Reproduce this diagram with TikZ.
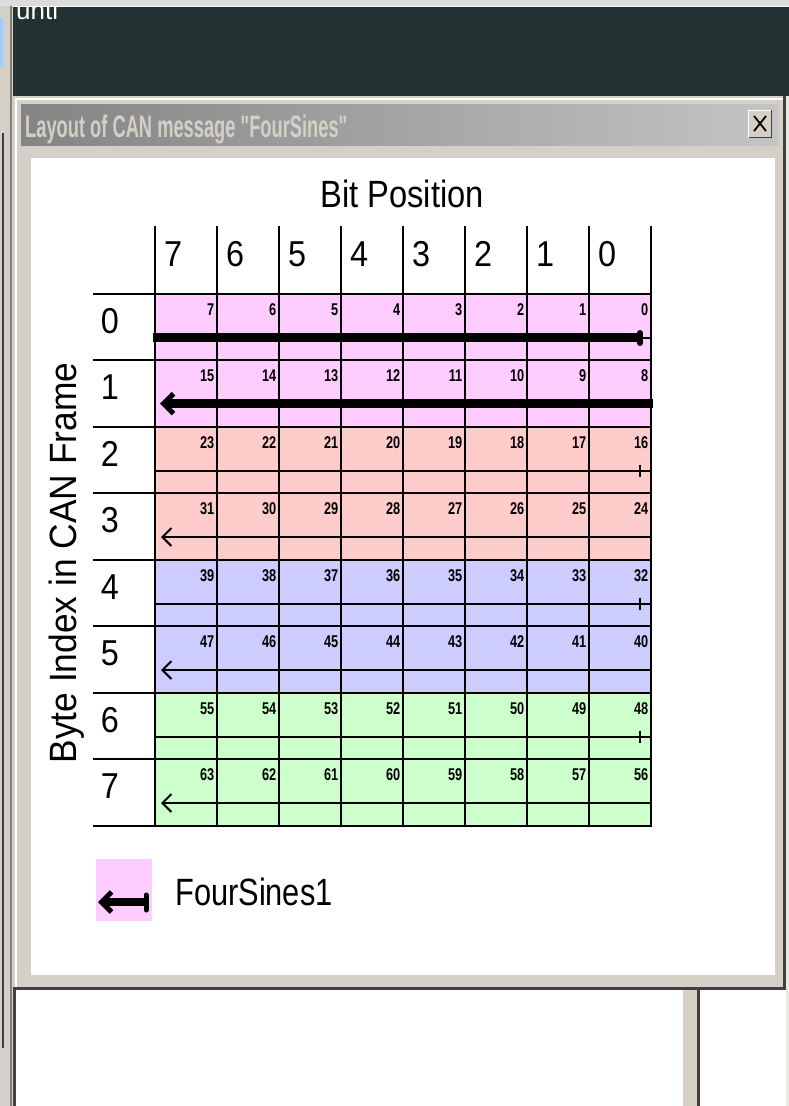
\documentclass[tikz,border=0pt]{standalone}
\usepackage{fontspec}
\setmainfont{Liberation Sans}
\newfontfamily\wintitle{Liberation Sans}[Ligatures=TeXOff]
\usetikzlibrary{arrows.meta}
\definecolor{wingray}{HTML}{D4D0C8}
\definecolor{deskdark}{HTML}{223232}
\definecolor{topstrip}{HTML}{DCDCDC}
\definecolor{sigpink}{HTML}{FFCCFF}
\definecolor{sigred}{HTML}{FFCCCC}
\definecolor{sigblue}{HTML}{CCCCFF}
\definecolor{siggreen}{HTML}{CCFFCC}
\definecolor{selblue}{HTML}{A6CAF0}
\definecolor{shadowgray}{HTML}{808080}
\definecolor{darkedge}{HTML}{404040}
\definecolor{titleleft}{HTML}{848484}
\definecolor{titleright}{HTML}{C4C4C4}
\newcommand{\nar}[2]{\scalebox{#1}[1]{#2}}

\begin{document}
\begin{tikzpicture}[x=1pt, y=-1pt,
  big/.style={font=\fontsize{38}{40}\selectfont, inner sep=0pt},
  digit/.style={font=\fontsize{36}{38}\selectfont, inner sep=0pt, anchor=base west},
  rowno/.style={font=\fontsize{36}{38}\selectfont, inner sep=0pt, anchor=base},
  bitno/.style={font=\fontsize{17}{18}\selectfont\bfseries, inner sep=0pt, anchor=base east},
  gridline/.style={line width=2pt},
  thinsig/.style={line width=2pt},
  thicksig/.style={line width=8.5pt},
  thinhead/.style={-{Straight Barb[length=9pt,width=18pt]}},
  thickhead/.style={-{Straight Barb[length=10pt,width=20pt,line width=5pt]}},
]
\useasboundingbox (0,0) rectangle (789,1106);
\fill[white] (0,0) rectangle (789,1106);
\fill[deskdark] (13,7) rectangle (789,96);
\node[white, font=\fontsize{26}{28}\selectfont, inner sep=0pt, anchor=base west] (desk) at (16,19) {unti};
\fill[topstrip] (0,0) rectangle (789,6);
\fill[wingray] (0,6) rectangle (13,1106);
\fill[selblue] (0,18) rectangle (3,67);
\fill[shadowgray] (9.5,6) rectangle (12,1106);
\fill[darkedge] (1.5,133) rectangle (3.5,1048);
\fill[darkedge] (13,988) rectangle (16,1106);
\fill[wingray] (683,988) rectangle (700,1106);
\fill[darkedge] (697,988) rectangle (700,1106);
\fill[wingray!50!white] (786,96) rectangle (789,1106);

\fill[wingray] (13,96) rectangle (786,990);
\draw[white, line width=2pt] (16,988) -- (16,99) -- (783,99);
\draw[darkedge, line width=3pt] (13,988.5) -- (784.5,988.5) -- (784.5,96);
\shade[left color=titleleft, right color=titleright] (21,104) rectangle (778,145);
\node[wingray, font=\wintitle\fontsize{31}{33}\selectfont\bfseries, inner sep=0pt, anchor=base west] (title) at (25,137) {\nar{0.59}{Layout of CAN message "FourSines"}};
\fill[wingray] (748,110) rectangle (772,138);
\draw[white, line width=1.5pt] (748.5,138) -- (748.5,110.5) -- (772,110.5);
\draw[darkedge, line width=1.5pt] (749,137.5) -- (771.5,137.5) -- (771.5,110);
\draw[line width=1.8pt] (754,116) -- (766,131) (766,116) -- (754,131);
\fill[white] (31,158) rectangle (775,975);

\foreach \r/\col in {0/sigpink,1/sigpink,2/sigred,3/sigred,4/sigblue,5/sigblue,6/siggreen,7/siggreen}
  \fill[\col] (155,293.5+66.5*\r) rectangle (651,360+66.5*\r);
\foreach \r in {0,2,4,6}
  \draw[thinsig] (155,337.5+66.5*\r) -- (651,337.5+66.5*\r);
\foreach \c in {0,...,8}
  \draw[gridline] (155+62*\c,226) -- (155+62*\c,826);
\foreach \r in {0,...,8}
  \draw[gridline] (93,293.5+66.5*\r) -- (652,293.5+66.5*\r);

\foreach \c in {0,...,7}{
  \pgfmathtruncatemacro{\b}{7-\c}
  \node[digit] (hd\c) at (164+62*\c,266.5) {\nar{0.9}{\b}};
}
\foreach \r in {0,...,7}
  \node[rowno] (rw\r) at (110,333+66.5*\r) {\nar{0.9}{\r}};
\foreach \r in {0,...,7}
  \foreach \c in {0,...,7}{
    \pgfmathtruncatemacro{\b}{8*\r+7-\c}
    \node[bitno] (bit\r\c) at (214.5+62*\c,315+66.5*\r) {\nar{0.75}{\b}};
  }

\coordinate (sl0) at (153,337.7);
\coordinate (sr0) at (641,337.7);
\draw[thicksig] (sl0) -- (sr0);
\draw[line width=6pt, line cap=round] (640,333) -- (640,343);
\coordinate (sr1) at (653,403.7);
\coordinate (sl1) at (160,403.7);
\draw[thicksig, thickhead] (sr1) -- (sl1);
\foreach \r in {2,4,6}
  \draw[thinsig] (640,331.5+66.5*\r) -- (640,343.5+66.5*\r);
\foreach \r in {3,5,7}{
  \coordinate (sr\r) at (651,337.5+66.5*\r);
  \coordinate (sl\r) at (161,337.5+66.5*\r);
  \draw[thinsig, thinhead] (sr\r) -- (sl\r);
}

\node[big, anchor=base] (bitpos) at (402,207) {\nar{0.86}{Bit Position}};
\node[big, rotate=90, anchor=base] (byteidx) at (76,563) {\nar{0.93}{Byte Index in CAN Frame}};

\fill[sigpink] (96,859) rectangle (152,921);
\coordinate (legr) at (146,902);
\coordinate (legl) at (98,902);
\draw[thicksig, line width=8pt, thickhead] (legr) -- (legl);
\draw[line width=5pt, line cap=round] (146,895) -- (146,910);
\node[big, anchor=base west] (legtext) at (175,905) {\nar{0.81}{FourSines1}};
\end{tikzpicture}
\end{document}
